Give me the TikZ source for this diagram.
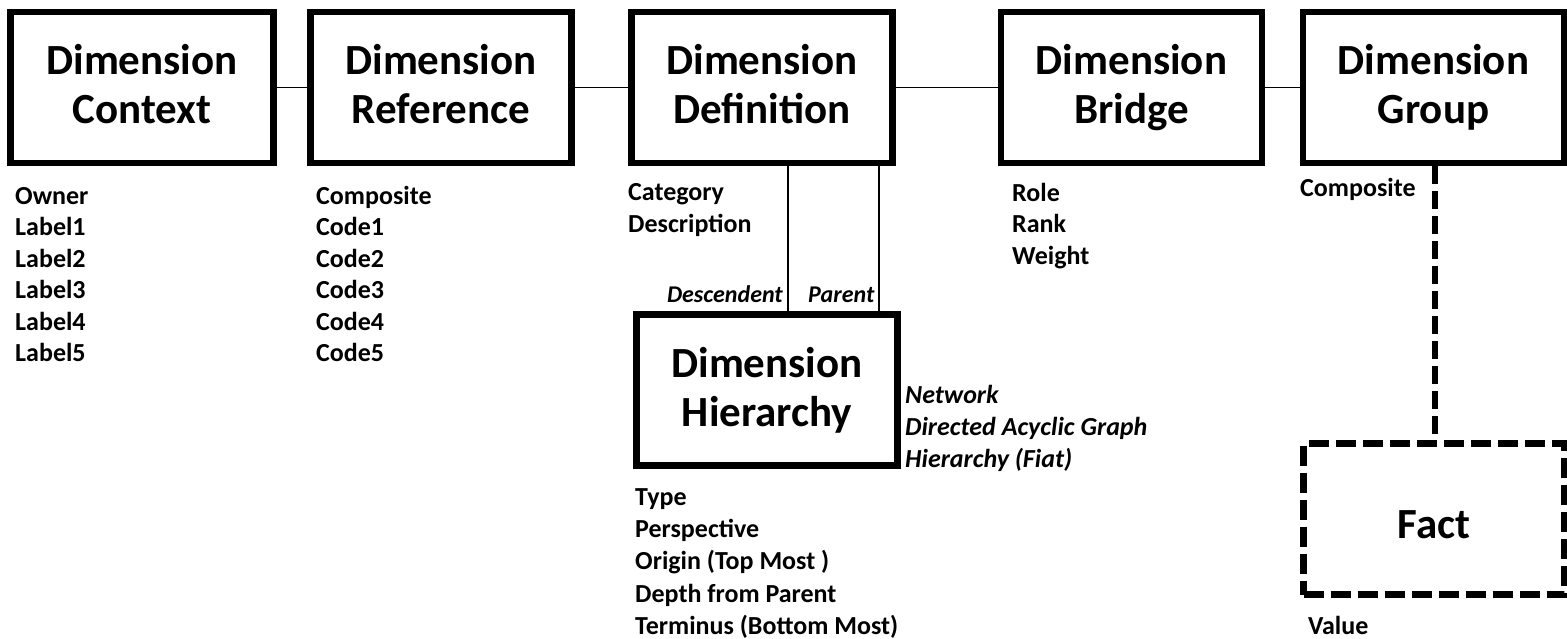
\documentclass[tikz,border=0pt]{standalone}
\usepackage{fontspec}
\setmainfont{Carlito}
\newcommand\tstrut{\rule[-12pt]{0pt}{48pt}}
\newcommand\fstrut{\rule[-2pt]{0pt}{42pt}}
\begin{document}
\begin{tikzpicture}[x=1pt,y=-1pt,
  box/.style={draw, line width=6.5pt, inner sep=0pt, minimum width=261pt, minimum height=151pt, align=center, font=\fontsize{43}{49}\selectfont\bfseries},
  dbox/.style={box, dash pattern=on 20pt off 7pt},
  link/.style={line width=1.5pt},
  dlink/.style={line width=6pt, dash pattern=on 18pt off 7pt},
  attr/.style={anchor=base west, align=left, inner sep=0pt, font=\fontsize{26}{31.5}\selectfont\bfseries},
  iattr/.style={anchor=base west, align=left, inner sep=0pt, font=\fontsize{26}{31.7}\selectfont\bfseries\itshape},
  rolelbl/.style={inner sep=0pt, font=\fontsize{24}{28}\selectfont\bfseries\itshape}]
\useasboundingbox[fill=white] (0,0) rectangle (1567,639);

% boxes
\node[box, minimum width=263pt] (ctx) at (142,87.5) {\tstrut Dimension\\\tstrut Context};
\node[box] (ref) at (441,87.5) {\tstrut Dimension\\\tstrut Reference};
\node[box] (def) at (762,87.5) {\tstrut Dimension\\\tstrut Definition};
\node[box] (brg) at (1131.5,87.5) {\tstrut Dimension\\\tstrut Bridge};
\node[box] (grp) at (1433.5,87.5) {\tstrut Dimension\\\tstrut Group};
\node[box] (hier) at (767,390) {\tstrut Dimension\\\tstrut Hierarchy};
\node[dbox] (fact) at (1434,519) {\fstrut Fact};

% connectors
\draw[link] (ctx.east) -- (ref.west);
\draw[link] (ref.east) -- (def.west);
\draw[link] (def.east) -- (brg.west);
\draw[link] (brg.east) -- (grp.west);
\coordinate (dx) at (788,0);
\coordinate (px) at (879,0);
\draw[link] (def.south -| dx) -- (hier.north -| dx);
\draw[link] (def.south -| px) -- (hier.north -| px);
\coordinate (gx) at (1435,0);
\draw[dlink] (grp.south -| gx) -- (fact.north -| gx);

% role labels
\node[rolelbl, anchor=base east] (desc) at (783,302) {Descendent};
\node[rolelbl, anchor=base west] (par) at (808,302) {Parent};

% attributes (anchor = baseline of last line)
\node[attr] (ctxa) at (15,361.5) {Owner\\Label1\\Label2\\Label3\\Label4\\Label5};
\node[attr] (refa) at (316,361.5) {Composite\\Code1\\Code2\\Code3\\Code4\\Code5};
\node[attr] (defa) at (628,232.5) {Category\\Description};
\node[attr] (brga) at (1012,264.5) {Role\\Rank\\Weight};
\node[attr] (grpa) at (1300,196.5) {Composite};
\node[attr, font=\fontsize{26}{32.3}\selectfont\bfseries] (hiera) at (635,634.5) {Type\\Perspective\\Origin (Top Most )\\Depth from Parent\\Terminus (Bottom Most)};
\node[iattr] (hiert) at (905,467) {Network\\Directed Acyclic Graph\\Hierarchy (Fiat)};
\node[attr] (facta) at (1308,634) {Value};
\end{tikzpicture}
\end{document}
